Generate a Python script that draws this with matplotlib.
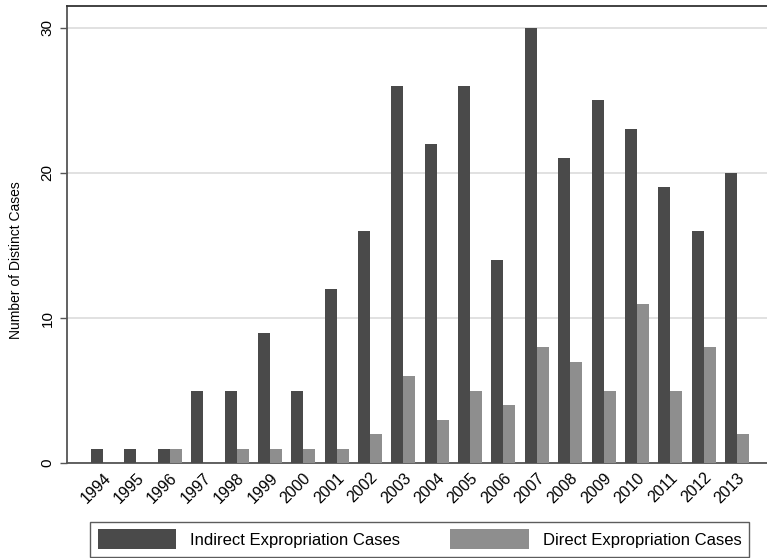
import matplotlib
matplotlib.use("Agg")
import matplotlib.pyplot as plt
import numpy as np
from matplotlib.patches import Patch

years = [str(y) for y in range(1994, 2014)]
indirect = [1, 1, 1, 5, 5, 9, 5, 12, 16, 26, 22, 26, 14, 30, 21, 25, 23, 19, 16, 20]
direct = [0, 0, 1, 0, 1, 1, 1, 1, 2, 6, 3, 5, 4, 8, 7, 5, 11, 5, 8, 2]
series_names = ["Indirect Expropriation Cases", "Direct Expropriation Cases"]
yticks = [0, 10, 20, 30]

plt.rcParams['font.family'] = ['Liberation Sans', 'DejaVu Sans']

dark = '#4a4a4a'
light = '#8e8e8e'

fig = plt.figure(figsize=(7.67, 5.58), dpi=100)
ax = fig.add_axes([0.0874, 0.170, 0.9126, 0.819])

x = np.arange(len(years))
w = 0.36
ax.bar(x - w / 2, indirect, width=w, color=dark, zorder=3, linewidth=0)
ax.bar(x + w / 2, direct, width=w, color=light, zorder=3, linewidth=0)

ax.set_xlim(-1.08, 19.9)
ax.set_ylim(0, 31.5)
ax.set_yticks(yticks)
ax.set_yticklabels([str(t) for t in yticks], rotation=90, va='center', fontsize=11)
ax.yaxis.grid(True, color='#dcdcdc', linewidth=1.2, zorder=0)
ax.tick_params(axis='y', length=5, width=1, color='#555555', pad=4)

ax.set_xticks(x)
ax.set_xticklabels(years, rotation=45, ha='right', va='top', rotation_mode='anchor', fontsize=11.5)
ax.tick_params(axis='x', length=0, pad=5)

ax.set_ylabel("Number of Distinct Cases", fontsize=10)
ax.yaxis.set_label_coords(-0.063, 0.444)

ax.spines['right'].set_visible(False)
ax.spines['top'].set_color('#333333')
ax.spines['top'].set_linewidth(1.3)
ax.spines['left'].set_color('#555555')
ax.spines['bottom'].set_color('#555555')
ax.spines['left'].set_linewidth(1.3)
ax.spines['bottom'].set_linewidth(1.3)

handles = [Patch(facecolor=dark, edgecolor='none'), Patch(facecolor=light, edgecolor='none')]
leg = fig.legend(handles, series_names, loc='center', bbox_to_anchor=(0.547, 0.0335), ncol=2,
                 frameon=True, fancybox=False, edgecolor='#333333', fontsize=12,
                 handlelength=4.7, handleheight=1.5, columnspacing=3.0, handletextpad=0.85,
                 borderpad=0.45, borderaxespad=0)
leg.get_frame().set_linewidth(1.0)

fig.savefig("out.png", dpi=100)
